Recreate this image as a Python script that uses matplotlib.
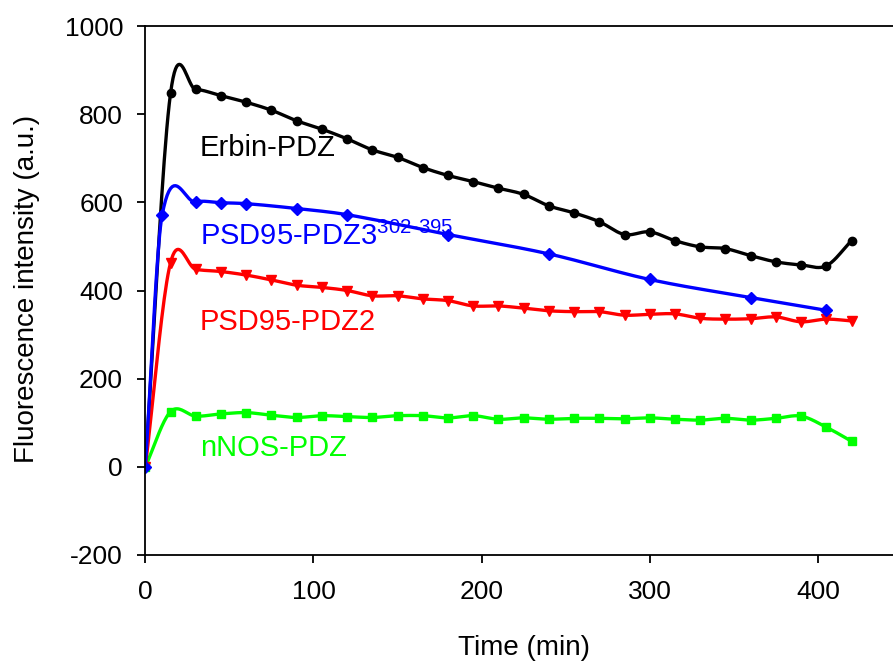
import matplotlib as mpl
mpl.use("Agg")
import matplotlib.pyplot as plt
import numpy as np

# values
erbin_t = [0, 15, 30, 45, 60, 75, 90, 105, 120, 135, 150, 165, 180, 195, 210,
           225, 240, 255, 270, 285, 300, 315, 330, 345, 360, 375, 390, 405, 420]
erbin_f = [0, 847, 856, 842, 827, 809, 785, 766, 744, 719, 702, 679, 661, 647, 632,
           618, 592, 576, 556, 527, 533, 513, 499, 495, 479, 465, 458, 456, 513]

pdz3_t = [0, 10, 30, 45, 60, 90, 120, 180, 240, 300, 360, 405]
pdz3_f = [0, 571, 601, 599, 597, 586, 572, 527, 483, 425, 384, 355]

pdz2_t = erbin_t
pdz2_f = [0, 463, 448, 443, 435, 424, 412, 407, 400, 388, 388, 381, 377, 365, 365,
          360, 354, 352, 352, 344, 346, 347, 337, 335, 336, 340, 329, 335, 331]

nnos_t = erbin_t
nnos_f = [0, 125, 115, 120, 123, 117, 112, 116, 114, 112, 116, 116, 111, 116, 108,
          111, 108, 110, 110, 109, 111, 108, 106, 110, 106, 110, 115, 90, 58]


def smooth(x, y, n=20):
    '''
    catmull-rom style curve through the points (only for drawing the line)
    '''
    x = np.asarray(x, float)
    y = np.asarray(y, float)
    m = len(x)
    d = np.zeros(m)
    d[0] = (y[1] - y[0]) / (x[1] - x[0])
    d[-1] = (y[-1] - y[-2]) / (x[-1] - x[-2])
    for i in range(1, m - 1):
        d[i] = (y[i + 1] - y[i - 1]) / (x[i + 1] - x[i - 1])
    xs, ys = [], []
    for i in range(m - 1):
        h = x[i + 1] - x[i]
        t = np.linspace(0, 1, n, endpoint=False)
        h00 = 2 * t ** 3 - 3 * t ** 2 + 1
        h10 = t ** 3 - 2 * t ** 2 + t
        h01 = -2 * t ** 3 + 3 * t ** 2
        h11 = t ** 3 - t ** 2
        xs.append(x[i] + t * h)
        ys.append(h00 * y[i] + h10 * h * d[i] + h01 * y[i + 1] + h11 * h * d[i + 1])
    xs.append([x[-1]])
    ys.append([y[-1]])
    return np.concatenate(xs), np.concatenate(ys)


plt.rcParams['font.family'] = ['Liberation Sans', 'DejaVu Sans']
plt.rcParams['axes.unicode_minus'] = False

fig = plt.figure(figsize=(8.93, 6.63), dpi=100)
ax = fig.add_axes([145.3 / 893, 108 / 663, (902 - 145.3) / 893, 529 / 663])

series = [
    (erbin_t, erbin_f, 'black', 'o', 6),
    (nnos_t, nnos_f, '#00ff00', 's', 6),
    (pdz2_t, pdz2_f, 'red', 'v', 6.5),
    (pdz3_t, pdz3_f, 'blue', 'D', 6),
]
for t, f, col, mk, ms in series:
    xs, ys = smooth(t, f)
    ax.plot(xs, ys, color=col, linewidth=2.4, solid_capstyle='round')
    ax.plot(t, f, linestyle='None', marker=mk, markersize=ms, color=col)

ax.set_xlim(0, 450)
ax.set_ylim(-200, 1000)
ax.set_xticks([0, 100, 200, 300, 400])
ax.set_yticks(np.arange(-200, 1001, 200))
ax.spines['right'].set_visible(False)
for s in ['left', 'bottom', 'top']:
    ax.spines[s].set_linewidth(1.3)
ax.tick_params(direction='out', length=6, width=1.3, labelsize=19, pad=12)
ax.tick_params(axis='y', pad=10)

ax.text(32.5, 705, 'Erbin-PDZ', color='black', fontsize=21)
ax.text(32.5, 503, r'PSD95-PDZ3$^{\mathregular{302\text{-}395}}$', color='blue', fontsize=21)
ax.text(32.5, 310, 'PSD95-PDZ2', color='red', fontsize=21)
ax.text(32.5, 24, 'nNOS-PDZ', color='#00ff00', fontsize=21)

fig.text(524 / 893, 1 - 655 / 663, 'Time (min)', ha='center', va='baseline', fontsize=20)
fig.text(27 / 893, 1 - 289 / 663, 'Fluorescence intensity (a.u.)', rotation=90,
         ha='center', va='center', fontsize=20)

fig.savefig('out.png', dpi=100)
